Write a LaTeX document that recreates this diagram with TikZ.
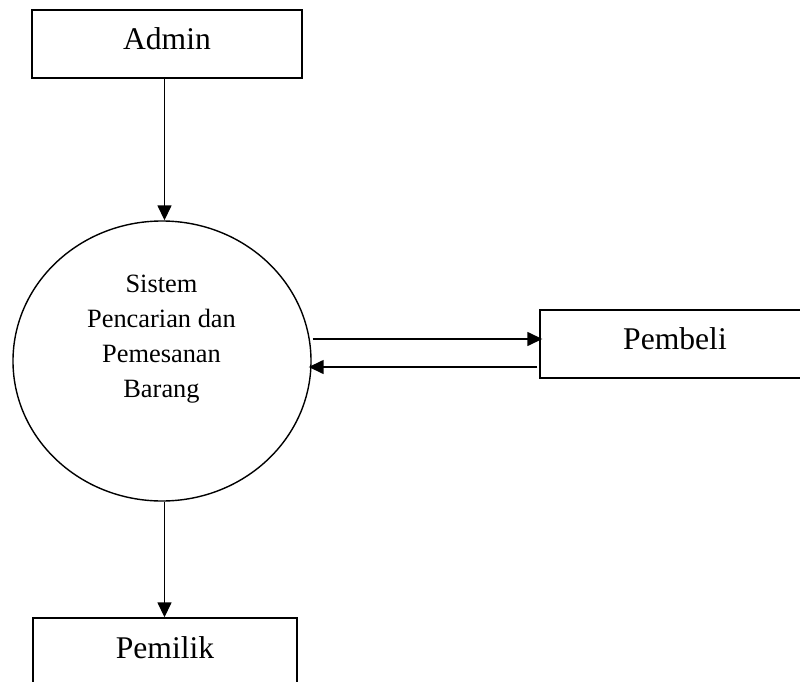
\documentclass[tikz,border=0pt]{standalone}
\usepackage{fontspec}
\setmainfont{Liberation Serif}
\usetikzlibrary{shapes.geometric,arrows.meta}
\begin{document}
\begin{tikzpicture}[x=1pt,y=-1pt,
  entity/.style={draw,line width=1.4pt,rectangle,inner sep=0pt,minimum height=68pt,
    text height=22pt,text depth=10pt,font=\fontsize{31.6}{38}\selectfont},
  proc/.style={draw,line width=1.4pt,ellipse,inner sep=0pt,minimum width=298pt,minimum height=280pt},
  ptext/.style={align=center,inner sep=0pt,font=\fontsize{26.4}{35}\selectfont},
  arr/.style={line width=1.5pt,-{Triangle[length=15pt,width=14pt]}}]
\useasboundingbox (0,0) rectangle (800,682);
\clip (0,0) rectangle (800,682);
\node[entity,minimum width=270pt] (admin) at (167,44) {Admin};
\node[proc] (circ) at (162,361) {};
\node[ptext] (ctext) at (161.5,339.5) {Sistem\\Pencarian dan\\Pemesanan\\Barang};
\node[entity,minimum width=270pt,text height=20pt,text depth=10pt] (pembeli) at (675,344) {Pembeli};
\node[entity,minimum width=264pt] (pemilik) at (165,652) {Pemilik};
\coordinate (cx) at (164.5,0);
\coordinate (u) at (0,339);
\coordinate (l) at (0,367);
\draw[arr] (admin.south -| cx) -- (circ.north -| cx);
\draw[arr] (circ.south -| cx) -- (pemilik.north -| cx);
\draw[arr] ([xshift=1pt]circ.east |- u) -- ([xshift=3pt]pembeli.west |- u);
\draw[arr] ([xshift=-2pt]pembeli.west |- l) -- ([xshift=-3pt]circ.east |- l);
\end{tikzpicture}
\end{document}
